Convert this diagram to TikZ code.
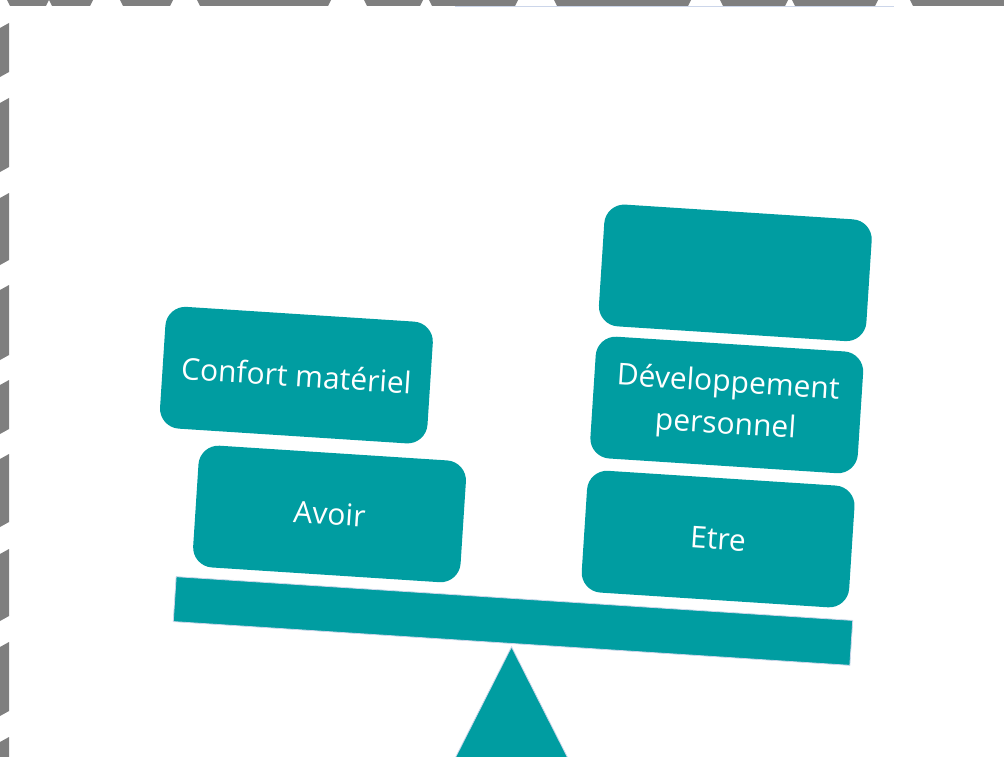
\documentclass[tikz,border=0pt]{standalone}
\usepackage{fontspec}
\setmainfont{Open Sans}
\usetikzlibrary{positioning}
\definecolor{seesaw}{RGB}{0,157,161}
\definecolor{framegrey}{RGB}{127,127,127}
\definecolor{rim}{RGB}{204,214,234}

\begin{document}
\begin{tikzpicture}[x=1pt, y=1pt, node distance = 12pt,
                    block/.style = {rectangle, rounded corners=20pt, fill=seesaw, text=white,
                        minimum width=268pt, minimum height=122pt, align=center,
                        font=\fontsize{30}{42}\selectfont, inner sep=0pt},
                    beam/.style = {rectangle, fill=seesaw, draw=rim, line width=0.8pt,
                        minimum width=678pt, minimum height=45pt, inner sep=0pt}]
\useasboundingbox (0,0) rectangle (1004,-757);
\clip (0,0) rectangle (1004,-757);
% frame pieces, top and left
\foreach \a/\b in {10/46, 52/90, 123/170, 200/328, 367/420, 432/515, 557/688, 723/785, 795/875, 913/1010}
    \fill[framegrey] (\a-3,0) -- (\b+3,0) -- (\b,-6) -- (\a,-6) -- cycle;
\foreach \a/\b in {23/72, 98/167, 193/260, 285/355, 380/429, 454/522, 549/616, 642/711, 737/790}
    \fill[framegrey] (0,-\a-5) -- (9,-\a) -- (9,-\b) -- (0,-\b-5) -- cycle;
\draw[rim, line width=1pt] (455,-6.5) -- (894,-6.5);
\begin{scope}[shift={(513,-621)}, rotate=-3.7, transform shape]
    \node[beam] (plank) at (0,0) {};
    \node[block] (avoir) at (-190,95) {Avoir};
    \node[block, right=121pt of avoir] (etre) {Etre};
    \node[block, above=of etre] (devperso) {Développement\\personnel};
    \node[block, above=10pt of devperso] (spare) {};
    \node[block, above=14pt of avoir, xshift=-42pt] (confort) {Confort matériel};
\end{scope}
\fill[seesaw, draw=rim, line width=0.8pt] ([yshift=-3pt]plank.south) -- ++(-80,-158) -- ++(160,0) -- cycle;
\end{tikzpicture}
\end{document}
